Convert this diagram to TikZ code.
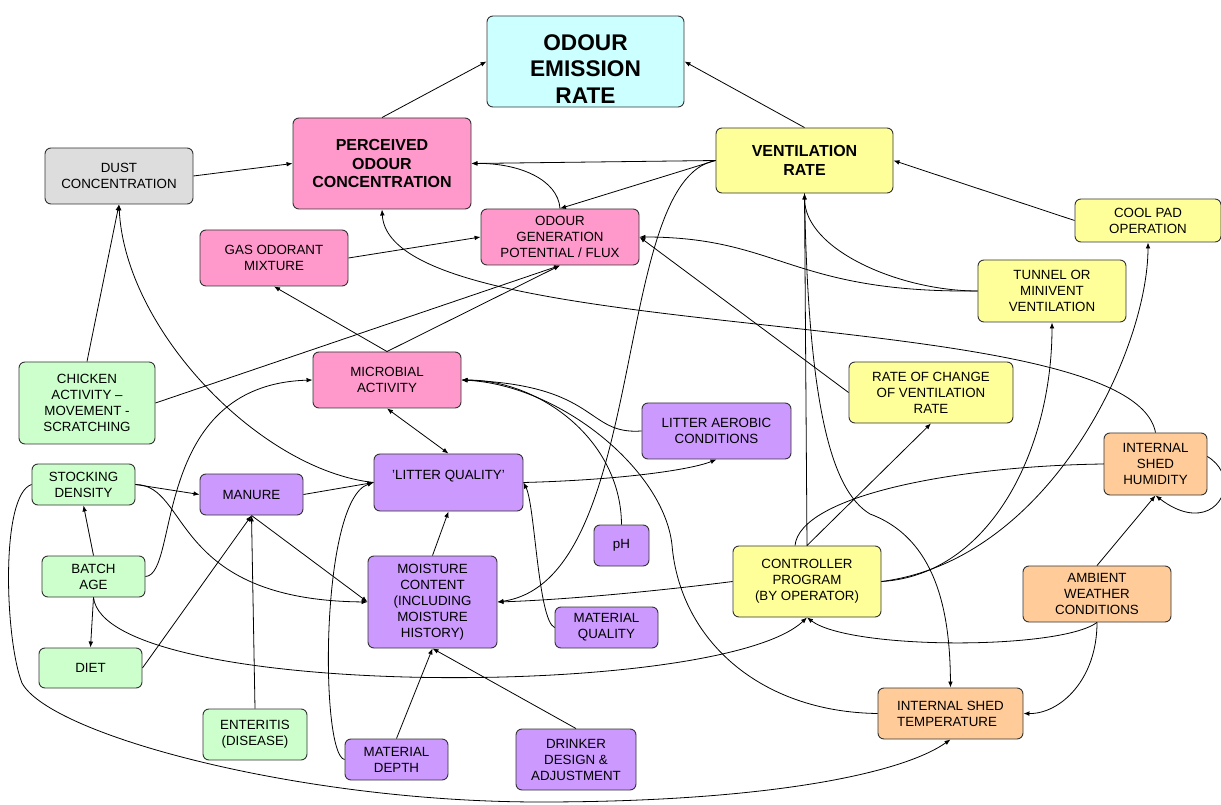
\documentclass[tikz,border=0pt]{standalone}
\usepackage{fontspec}
\setmainfont{Liberation Sans}
\usepackage{xcolor}
\usetikzlibrary{arrows.meta,backgrounds}

\definecolor{emissioncyan}{RGB}{204,255,255}
\definecolor{odourpink}{RGB}{255,153,204}
\definecolor{dustgrey}{RGB}{221,221,221}
\definecolor{ventyellow}{RGB}{255,255,153}
\definecolor{birdgreen}{RGB}{204,255,204}
\definecolor{litterpurple}{RGB}{204,153,255}
\definecolor{shedorange}{RGB}{255,204,153}
\definecolor{boxline}{RGB}{51,51,51}

\begin{document}
\begin{tikzpicture}[
        x=0.75pt, y=-0.75pt,
        box/.style={rectangle, draw=boxline, line width=0.7pt, rounded corners=4.5pt, minimum width=111pt, minimum height=42pt, inner sep=0pt, align=center, font=\fontsize{10}{12}\selectfont},
        smallbox/.style={box, minimum width=77.25pt, minimum height=30.75pt},
        titlebox/.style={box, font=\fontsize{12}{14}\selectfont\bfseries},
        arrow/.style={->, >={Latex[length=4.5pt, width=3.5pt]}, line width=0.6pt}
    ]
        \useasboundingbox (0,0) rectangle (1221,805);

        % Odour
        \node[titlebox, fill=emissioncyan, minimum width=147.75pt, minimum height=68.25pt, font=\fontsize{17}{20}\selectfont\bfseries] (emission) at (585.5,61.5) {\rule{0pt}{23pt}ODOUR\\EMISSION\\RATE};
        \node[titlebox, fill=odourpink, minimum width=133.5pt, minimum height=68.25pt] (perceived) at (382,163.5) {PERCEIVED\\ODOUR\\CONCENTRATION};
        \node[box, fill=dustgrey] (dust) at (119,176) {DUST\\CONCENTRATION};
        \node[box, fill=odourpink, minimum width=118.5pt] (generation) at (560,237) {ODOUR\\GENERATION\\POTENTIAL / FLUX};
        \node[box, fill=odourpink] (gas) at (274,258) {GAS ODORANT\\MIXTURE};
        \node[box, fill=odourpink] (microbial) at (387,380) {MICROBIAL\\ACTIVITY};

        % Ventilation
        \node[titlebox, fill=ventyellow, minimum width=132.75pt, minimum height=48.75pt] (ventrate) at (804.5,160.5) {VENTILATION\\RATE};
        \node[box, fill=ventyellow, minimum width=109.5pt, minimum height=32.25pt] (coolpad) at (1148,220.5) {COOL PAD\\OPERATION};
        \node[box, fill=ventyellow, minimum height=46.5pt] (tunnel) at (1052,291) {TUNNEL OR\\MINIVENT\\VENTILATION};
        \node[box, fill=ventyellow, minimum width=123pt, minimum height=45.75pt] (ratechange) at (931,392.5) {RATE OF CHANGE\\OF VENTILATION\\RATE};
        \node[box, fill=ventyellow, minimum height=53.25pt] (controller) at (807,581.5) {CONTROLLER\\PROGRAM\\(BY OPERATOR)};

        % Shed climate
        \node[smallbox, fill=shedorange, minimum height=46.5pt] (humidity) at (1155.5,464) {INTERNAL\\SHED\\HUMIDITY};
        \node[box, fill=shedorange] (ambient) at (1097,594) {AMBIENT\\WEATHER\\CONDITIONS};
        \node[box, fill=shedorange, minimum width=108.75pt, minimum height=38.25pt, align=left] (temperature) at (950.5,713.5) {INTERNAL SHED\\TEMPERATURE};

        % Birds
        \node[box, fill=birdgreen, minimum width=102pt, minimum height=61.5pt] (chicken) at (87,403) {CHICKEN\\ACTIVITY –\\MOVEMENT -\\SCRATCHING};
        \node[smallbox, fill=birdgreen] (stocking) at (83.5,484.5) {STOCKING\\DENSITY};
        \node[smallbox, fill=birdgreen] (batch) at (93.5,576.5) {BATCH\\AGE};
        \node[smallbox, fill=birdgreen, minimum height=30pt] (diet) at (90.5,668) {DIET};
        \node[smallbox, fill=birdgreen, minimum width=78pt, minimum height=38.25pt] (enteritis) at (255,734.5) {ENTERITIS\\(DISEASE)};

        % Litter
        \node[box, fill=litterpurple, minimum width=111.75pt] (aerobic) at (716.5,431) {LITTER AEROBIC\\CONDITIONS};
        \node[box, fill=litterpurple, minimum width=111.75pt, minimum height=42.75pt] (litter) at (448.5,482.5) {'LITTER QUALITY'\\ \mbox{}};
        \node[smallbox, fill=litterpurple] (manure) at (251.5,494.5) {MANURE};
        \node[smallbox, fill=litterpurple, minimum width=41.25pt] (ph) at (621.5,545.5) {pH};
        \node[box, fill=litterpurple, minimum width=96.75pt, minimum height=69pt] (moisture) at (432.5,602) {MOISTURE\\CONTENT\\(INCLUDING\\MOISTURE\\HISTORY)};
        \node[smallbox, fill=litterpurple] (matquality) at (606.5,627.5) {MATERIAL\\QUALITY};
        \node[smallbox, fill=litterpurple] (depth) at (396.5,759.5) {MATERIAL\\DEPTH};
        \node[box, fill=litterpurple, minimum width=90pt, minimum height=45.75pt] (drinker) at (576,759.5) {DRINKER\\DESIGN \&\\ADJUSTMENT};

        % Arrows to odour
        \draw[arrow] (perceived.north) -- (emission.west);
        \draw[arrow] (ventrate.north) -- (emission.east);
        \draw[arrow] (dust.east) -- (perceived.west);
        \draw[arrow] (ventrate.west) -- (perceived.east);
        \draw[arrow] (generation.north) .. controls (558,180) and (520,163) .. (perceived.east);
        \draw[arrow] (ventrate.west) -- (generation.north);
        \draw[arrow] (gas.east) -- (generation.west);
        \draw[arrow] (ratechange.west) -- (generation.east);
        \draw[arrow] (tunnel.west) .. controls (790,293) and (780,237) .. (generation.east);
        \draw[arrow] (humidity.north) .. controls (1130,300) and (390,350) .. (perceived.south);
        \draw[arrow] (microbial.north) -- (gas.south);
        \draw[arrow] (microbial.north) -- (generation.south);
        \draw[arrow] (chicken.east) -- (generation.south);
        \draw[arrow] (chicken.north) -- (dust.south);
        \draw[arrow] (litter.west) .. controls (260,470) and (125,330) .. (dust.south);

        % Arrows to ventilation
        \draw[arrow] (coolpad.west) -- (ventrate.east);
        \draw[arrow] (tunnel.west) .. controls (900,291) and (805,250) .. (ventrate.south);
        \draw[arrow] (controller.north) -- (ventrate.south);
        \draw[arrow] (controller.north) -- (ratechange.south);
        \draw[arrow] (controller.east) .. controls (990,575) and (1052,450) .. (tunnel.south);
        \draw[arrow] (controller.east) .. controls (1050,560) and (1148,350) .. (coolpad.south);
        \begin{scope}[on background layer]
            \draw[arrow] ([xshift=-9pt]controller.north) .. controls (800,496) and (954,466) .. (humidity.west) .. controls (1270,400) and (1240,560) .. (humidity.south);
        \end{scope}

        % Arrows of the shed climate
        \draw[arrow] (ambient.north) -- (humidity.south);
        \draw[arrow] (ambient.south) .. controls (1060,650) and (850,650) .. (controller.south);
        \draw[arrow] (ambient.south) .. controls (1097,680) and (1060,714) .. (temperature.east);
        \draw[arrow] (ventrate.south) .. controls (808,400) and (830,490) .. (870,514) .. controls (940,540) and (950,620) .. (temperature.north);
        \draw[arrow] (stocking.west) .. controls (0,495) and (5,640) .. (22,683) .. controls (50,735) and (300,802) .. (540,802) .. controls (760,802) and (900,775) .. (temperature.south);
        \draw[arrow] (batch.south) .. controls (105,700) and (720,700) .. (controller.south);

        % Arrows of the litter
        \draw[arrow] (temperature.west) .. controls (760,712) and (680,640) .. (672,545) .. controls (664,470) and (560,385) .. (microbial.east);
        \draw[arrow] (aerobic.west) .. controls (585,435) and (600,385) .. (microbial.east);
        \draw[arrow] (ph.north) .. controls (621,440) and (540,380) .. (microbial.east);
        \draw[arrow] (batch.east) .. controls (180,575) and (150,385) .. (microbial.west);
        \draw[arrow, <->] (microbial.south) -- (litter.north);
        \draw[arrow] (litter.east) .. controls (620,480) and (690,470) .. (aerobic.south);
        \draw[arrow] (matquality.west) .. controls (538,620) and (535,505) .. (litter.east);
        \draw[arrow] (manure.east) -- (litter.west);
        \draw[arrow] (depth.west) .. controls (320,755) and (320,500) .. (litter.west);
        \draw[arrow] (moisture.north) -- (litter.south);
        \draw[arrow] (depth.north) -- (moisture.south);
        \draw[arrow] (drinker.north) -- (moisture.south);
        \draw[arrow] (controller.west) .. controls (650,592) and (560,600) .. (moisture.east);
        \draw[arrow] (ventrate.west) .. controls (610,180) and (650,580) .. (moisture.east);

        % Arrows of the birds
        \draw[arrow] (stocking.east) -- (manure.west);
        \draw[arrow] (stocking.east) .. controls (190,485) and (170,600) .. (moisture.west);
        \draw[arrow] (manure.south) -- (moisture.west);
        \draw[arrow] (diet.east) -- (manure.south);
        \draw[arrow] (enteritis.north) -- (manure.south);
        \draw[arrow] (batch.north) -- (stocking.south);
        \draw[arrow] (batch.south) -- (diet.north);
    \end{tikzpicture}
\end{document}
